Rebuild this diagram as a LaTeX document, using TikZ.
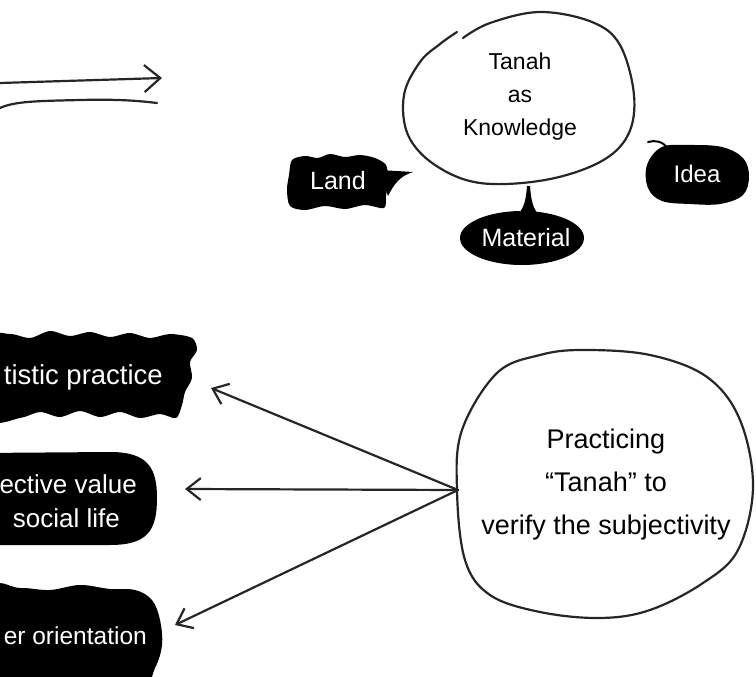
\documentclass[tikz,border=0pt]{standalone}
\usepackage{fontspec}
\setmainfont{Liberation Sans}
\usetikzlibrary{arrows.meta}
\begin{document}
\begin{tikzpicture}[x=1pt,y=-1pt,
  pen/.style={line width=2.2pt, draw=black!85, line cap=round, line join=round},
  wtext/.style={text=white, inner sep=0pt, font=\fontsize{25}{30}\selectfont},
  btext/.style={text=black, inner sep=0pt, align=center},
  barb/.style={-{Straight Barb[length=14pt,width=22pt]}},
  bigbarb/.style={-{Straight Barb[length=16pt,width=27pt]}}
]
\useasboundingbox (0,0) rectangle (756,677);
\begin{scope}
\clip (0,0) rectangle (756,677);

% ---------- top-left double line arrow ----------
\coordinate (a0) at (0,83);
\coordinate (a1) at (162,78);
\draw[pen, bigbarb] (a0) -- (a1);
\coordinate (b0) at (0,108);
\coordinate (b1) at (157,103);
\draw[pen] (b0) .. controls (15,101) and (40,101) .. (80,100) .. controls (120,99) and (140,101) .. (b1);

% ---------- Tanah as Knowledge ----------
\draw[pen] plot[smooth, tension=0.6] coordinates {(463,38) (490,23) (540,12) (592,22) (620,45) (634,95) (628,135) (600,162) (545,180) (480,183) (435,165) (408,135) (404,95) (420,62) (440,44) (457,32)};
\node[btext, font=\fontsize{23}{33}\selectfont] (know) at (520,97) {Tanah\\as\\Knowledge};

% Land
\fill plot[smooth cycle, tension=0.5] coordinates {(292,160) (305,156) (318,158) (330,154) (345,157) (360,155) (375,158) (386,165) (388,180) (386,196) (384,208) (365,205) (345,209) (325,206) (305,210) (290,206) (287,190) (289,175)};
\fill (380,170) -- (413,172) .. controls (400,176) and (394,184) .. (388,196) -- cycle;
\node[wtext] (land) at (338,181) {Land};

% Material
\fill (522,238) ellipse [x radius=62, y radius=27];
\fill (518,214) .. controls (524,208) and (526,200) .. (527,186) -- (530,186) .. controls (531,200) and (533,208) .. (538,214) -- cycle;
\node[wtext] (mat) at (526,238) {Material};

% Idea
\fill plot[smooth cycle, tension=0.6] coordinates {(662,147) (690,145) (722,147) (743,158) (749,176) (743,195) (720,204) (690,204) (662,201) (648,188) (647,165)};
\draw[line width=2pt, line cap=round] (648,142) .. controls (655,140) and (663,141) .. (668,149);
\node[wtext, font=\fontsize{24}{28}\selectfont] (idea) at (697,174) {Idea};

% ---------- left blobs ----------
\fill plot[smooth cycle, tension=0.5] coordinates {(-10,340) (10,334) (30,338) (50,331) (70,336) (90,332) (110,337) (130,333) (150,338) (170,334) (192,338) (197,350) (190,362) (192,378) (185,392) (182,405) (176,418) (160,414) (140,418) (120,412) (100,417) (80,411) (60,417) (40,412) (20,418) (-10,418)};
\node[wtext, font=\fontsize{27.5}{30}\selectfont, anchor=east] (art) at (163,377) {tistic practice};

\fill (-20,453) -- (110,452) .. controls (148,452) and (157,468) .. (157,498) .. controls (157,530) and (148,545) .. (110,545) -- (-20,545) -- cycle;
\node[wtext, font=\fontsize{26}{30}\selectfont, anchor=east] (val1) at (137,484) {ective value};
\node[wtext, font=\fontsize{26}{30}\selectfont, anchor=east] (val2) at (120,518) {social life};

\fill plot[smooth cycle, tension=0.6] coordinates {(-10,592) (20,588) (50,590) (80,585) (110,589) (135,590) (152,600) (160,620) (162,645) (155,668) (140,690) (80,695) (-10,695)};
\node[wtext, font=\fontsize{24.5}{30}\selectfont, anchor=east] (ori) at (147,636) {er orientation};

% ---------- Practicing circle ----------
\draw[pen] plot[smooth cycle, tension=0.6] coordinates {(583,350) (650,355) (707,377) (740,420) (753,487) (738,550) (703,583) (650,610) (600,618) (540,612) (490,595) (465,560) (457,490) (462,430) (497,373) (540,355)};
\node[btext, font=\fontsize{27}{43}\selectfont] (prac) at (606,485) {Practicing\\“Tanah” to\\verify the subjectivity};

\coordinate (src) at (458,490);
\coordinate (tA) at (211,388);
\coordinate (tB) at (185,489);
\coordinate (tC) at (175,625);
\draw[pen, barb] (src) -- (tA);
\draw[pen, barb] (src) -- (tB);
\draw[pen, barb] (src) -- (tC);
\end{scope}
\end{tikzpicture}
\end{document}
